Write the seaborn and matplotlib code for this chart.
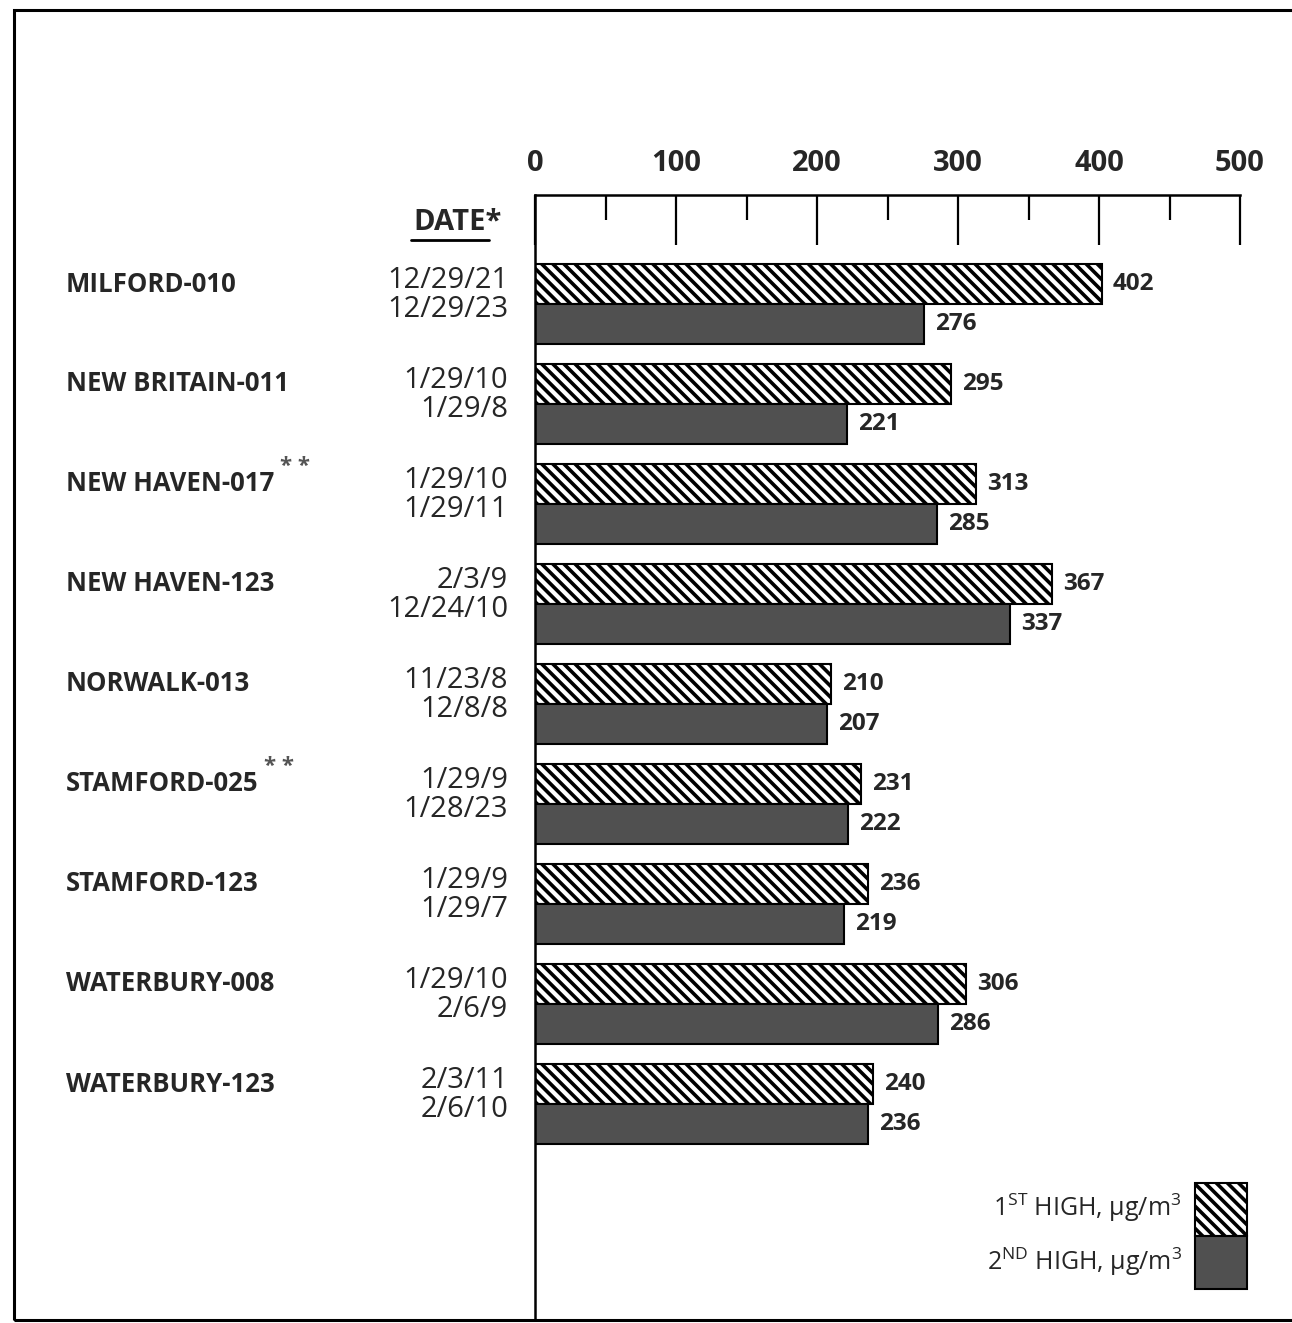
import pandas as pd
import seaborn as sns
import matplotlib.pyplot as plt
import matplotlib.patches as mpatches
import matplotlib.transforms as mtransforms
from matplotlib.lines import Line2D

sites = ['MILFORD-010', 'NEW BRITAIN-011', 'NEW HAVEN-017', 'NEW HAVEN-123',
         'NORWALK-013', 'STAMFORD-025', 'STAMFORD-123', 'WATERBURY-008',
         'WATERBURY-123']
notes = ['', '', '**', '', '', '**', '', '', '']
first_high = [402, 295, 313, 367, 210, 231, 236, 306, 240]
second_high = [276, 221, 285, 337, 207, 222, 219, 286, 236]
first_dates = ['12/29/21', '1/29/10', '1/29/10', '2/3/9', '11/23/8',
               '1/29/9', '1/29/9', '1/29/10', '2/3/11']
second_dates = ['12/29/23', '1/29/8', '1/29/11', '12/24/10', '12/8/8',
                '1/28/23', '1/29/7', '2/6/9', '2/6/10']
series = ['1ST HIGH', '2ND HIGH']
legend_labels = [r'1$^{\mathrm{ST}}$ HIGH, µg/m$^{3}$',
                 r'2$^{\mathrm{ND}}$ HIGH, µg/m$^{3}$']

sns.set_style('white')
plt.rcParams['font.family'] = ['Open Sans', 'DejaVu Sans']
plt.rcParams['mathtext.fontset'] = 'custom'
plt.rcParams['mathtext.rm'] = 'Open Sans'
plt.rcParams['hatch.linewidth'] = 2.6

HATCH = '\\\\\\'
DARK = '#505050'

df = pd.DataFrame({
    'site': sites * 2,
    'rank': [series[0]] * len(sites) + [series[1]] * len(sites),
    'value': first_high + second_high,
})

fig = plt.figure(figsize=(12.92, 13.23), dpi=100)
ax = fig.add_axes([535 / 1292, 3 / 1323, (1240 - 535) / 1292, (1320 - 195) / 1323])

sns.barplot(data=df, x='value', y='site', hue='rank', orient='h',
            palette=['white', DARK], edgecolor='black', linewidth=1.5,
            saturation=1, width=0.8, legend=False, ax=ax)
for bar in ax.containers[0]:
    bar.set_hatch(HATCH)

ax.bar_label(ax.containers[0], padding=8, fontsize=17.5, fontweight='bold')
ax.bar_label(ax.containers[1], padding=8, fontsize=17.5, fontweight='bold')

ax.set_xlim(0, 500)
ax.set_ylim(10.16, -1.09)
ax.set_yticks([])
ax.set_xlabel('')
ax.set_ylabel('')
ax.xaxis.tick_top()
ax.set_xticks(range(0, 501, 100))
ax.set_xticks(range(50, 500, 100), minor=True)
ax.tick_params(axis='x', which='major', direction='in', length=36, width=1.6,
               pad=12, labelsize=21, top=True, bottom=False, color='black')
ax.tick_params(axis='x', which='minor', direction='in', length=18, width=1.6,
               top=True, bottom=False, color='black')
for lab in ax.get_xticklabels():
    lab.set_fontweight('bold')
for side in ['right', 'bottom']:
    ax.spines[side].set_visible(False)
for side in ['left', 'top']:
    ax.spines[side].set_linewidth(1.8)
    ax.spines[side].set_color('black')

# site names and dates on the left
trans = mtransforms.blended_transform_factory(fig.transFigure, ax.transData)
for i, name in enumerate(sites):
    t = ax.text(66 / 1292, i - 0.2, name, transform=trans, ha='left',
                va='center', fontsize=18.5, fontweight='bold', clip_on=False)
    if notes[i]:
        ax.annotate('* *', xy=(1, 0.75), xycoords=t, xytext=(4, 0),
                    textcoords='offset points', va='bottom', fontsize=16,
                    color='#555555', fontweight='bold')
    ax.text(508 / 1292, i - 0.09, first_dates[i] + '\n' + second_dates[i],
            transform=trans, ha='right', va='center', fontsize=21,
            linespacing=1.0, clip_on=False)

fig.text(502 / 1292, 1 - 222 / 1323, 'DATE*', ha='right', va='center',
         fontsize=21, fontweight='bold')
fig.add_artist(Line2D([411 / 1292, 489 / 1292], [1 - 240 / 1323, 1 - 240 / 1323],
                      transform=fig.transFigure, color='black', lw=2))

# legend
handles = [
    mpatches.Patch(facecolor='white', edgecolor='black', hatch=HATCH, lw=1.5),
    mpatches.Patch(facecolor=DARK, edgecolor='black', lw=1.5),
]
fig.legend(handles=handles, labels=legend_labels, loc='lower right',
           bbox_to_anchor=(1247 / 1292, 1 - 1289 / 1323), frameon=False,
           markerfirst=False, fontsize=18, handlelength=2.1, handleheight=2.9,
           labelspacing=0, handletextpad=0.5, borderpad=0, borderaxespad=0)

# outer frame
fig.add_artist(mpatches.Rectangle((14 / 1292, 3 / 1323), 1.2, (1320 - 10) / 1323,
                                  transform=fig.transFigure, fill=False,
                                  edgecolor='black', lw=2.2))

fig.savefig('out.png', dpi=100)
